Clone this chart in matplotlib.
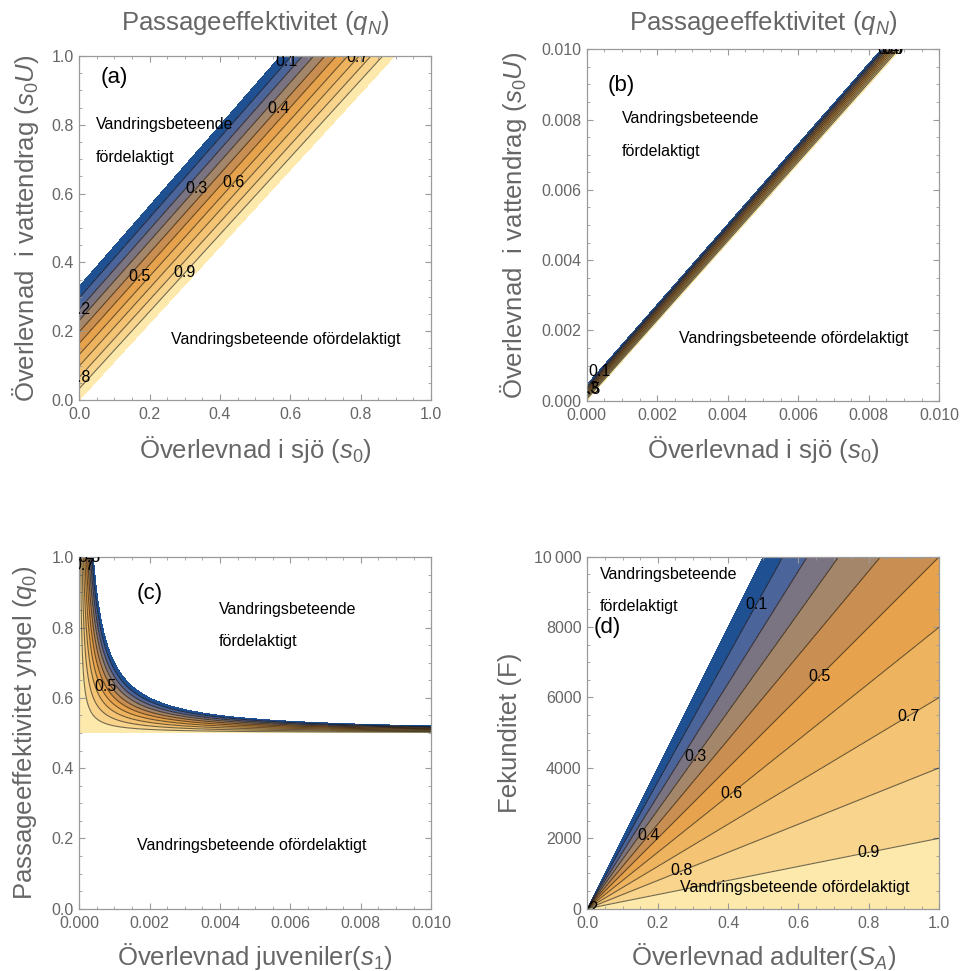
import numpy as np
import matplotlib
matplotlib.use("Agg")
import matplotlib.pyplot as plt
from matplotlib.ticker import MultipleLocator

plt.rcParams['font.family'] = ['Liberation Sans', 'DejaVu Sans']
plt.rcParams['mathtext.fontset'] = 'custom'
plt.rcParams['mathtext.rm'] = 'Liberation Sans'
plt.rcParams['mathtext.it'] = 'Liberation Sans:italic'

# passage efficiency contour levels and the colour of each band
levels = [0.1, 0.2, 0.3, 0.4, 0.5, 0.6, 0.7, 0.8, 0.9]
band_edges = [0.0] + levels + [1.0]
band_colors = ['#1f5192', '#4b6499', '#7a7382', '#a4876a', '#c98f52',
               '#e6a24c', '#eeb35f', '#f4c474', '#f8d48c', '#fde9ac']

# (a), (b): s0U where qN = 0 at s0 = 0, slope of the qN = 0 and qN = 1 lines
a_intercept, a_slope_top, a_slope_bottom = 0.33, 1.17, 1.115
b_intercept, b_slope_top, b_slope_bottom = 0.00045, 1.143, 1.124
# (c): q0 threshold and (q0 - threshold) * s1 at qN = 0
c_threshold, c_product = 0.5, 0.0002
# (d): F / SA at qN = 0
d_ratio = 20000

GRAY = '#666666'
FRAME = '#9a9a9a'


def band_field(x, y, intercept, top, bottom):
    return 1 - (y - bottom * x) / ((top - bottom) * x + intercept)


def style_axes(ax, xmaj, xmin, ymaj, ymin):
    for s in ax.spines.values():
        s.set_color(FRAME)
        s.set_linewidth(0.9)
    ax.xaxis.set_major_locator(MultipleLocator(xmaj))
    ax.xaxis.set_minor_locator(MultipleLocator(xmin))
    ax.yaxis.set_major_locator(MultipleLocator(ymaj))
    ax.yaxis.set_minor_locator(MultipleLocator(ymin))
    ax.tick_params(which='both', direction='in', top=True, right=True,
                   color=FRAME, labelcolor=GRAY, labelsize=11.5)
    ax.tick_params(which='major', length=4.5, width=0.8)
    ax.tick_params(which='minor', length=2.2, width=0.6)
    ax.tick_params(axis='x', pad=5)
    ax.tick_params(axis='y', pad=4)


def draw_bands(ax, X, Y, Z, label_pos, lw=0.8, alpha=0.55):
    ax.contourf(X, Y, Z, levels=band_edges, colors=band_colors)
    cs = ax.contour(X, Y, Z, levels=levels, colors='black', alpha=alpha,
                    linewidths=lw)
    # put each level's label on the closest point of its line, kept level
    for lev, pos in label_pos:
        i = int(np.argmin(np.abs(np.asarray(cs.levels) - lev)))
        segs = [s for s in cs.allsegs[i] if len(s)]
        pts = np.vstack(segs)
        disp = ax.transData.transform(pts)
        target = ax.transData.transform(pos)
        k = int(np.argmin(np.hypot(*(disp - target).T)))
        ax.text(pts[k, 0], pts[k, 1], f'{cs.levels[i]:.1f}', fontsize=11.5,
                ha='center', va='center', clip_on=True, zorder=5)


def labels(ax, title, xlabel, ylabel, xoff, yoff, toff=None):
    kw = dict(transform=ax.transAxes, ha='center', va='center',
              color=GRAY, fontsize=18.5)
    ax.text(0.5, xoff, xlabel, **kw)
    ax.text(yoff, 0.5, ylabel, rotation=90, **kw)
    if title:
        ax.text(0.5, toff, title, **kw)


def notes(ax, upper, lower, tag, tag_xy, ann=11.5):
    (x1, y1), (x2, y2), (x3, y3) = upper[0], upper[1], lower
    ax.text(x1, y1, 'Vandringsbeteende', fontsize=ann, va='center')
    ax.text(x2, y2, 'fördelaktigt', fontsize=ann, va='center')
    ax.text(x3, y3, 'Vandringsbeteende ofördelaktigt', fontsize=ann,
            va='center')
    ax.text(tag_xy[0], tag_xy[1], tag, fontsize=16, va='center')


fig = plt.figure(figsize=(9.62, 9.71), dpi=100)
ax_a = fig.add_axes([0.0824, 0.5881, 0.3656, 0.3543])
ax_b = fig.add_axes([0.6099, 0.5873, 0.3665, 0.3619])
ax_c = fig.add_axes([0.0824, 0.0642, 0.3659, 0.3619])
ax_d = fig.add_axes([0.6105, 0.0642, 0.3659, 0.3625])

title = 'Passageeffektivitet ($q_N$)'
s0_label = 'Överlevnad i sjö ($s_0$)'
s0u_label = 'Överlevnad  i vattendrag ($s_0U$)'

# (a)
x = np.linspace(0, 1, 700)
X, Y = np.meshgrid(x, x)
Za = band_field(X, Y, a_intercept, a_slope_top, a_slope_bottom)
ax_a.set_xlim(0, 1)
ax_a.set_ylim(0, 1)
draw_bands(ax_a, X, Y, Za,
           [(0.1, (0.59, 0.985)), (0.2, (0.0, 0.257)), (0.3, (0.34, 0.61)),
            (0.4, (0.575, 0.84)), (0.5, (0.17, 0.36)), (0.6, (0.45, 0.62)),
            (0.7, (0.80, 0.985)), (0.8, (0.0, 0.065)), (0.9, (0.30, 0.37))])
style_axes(ax_a, 0.2, 0.05, 0.2, 0.05)
labels(ax_a, title, s0_label, s0u_label, -0.145, -0.153, 1.096)
notes(ax_a, [(0.048, 0.80), (0.048, 0.706)], (0.26, 0.177), '(a)',
      (0.06, 0.936))

# (b): the band is narrow here, so its lines crowd together
x = np.linspace(0, 0.01, 1600)
X, Y = np.meshgrid(x, x)
Zb = band_field(X, Y, b_intercept, b_slope_top, b_slope_bottom)
ax_b.set_xlim(0, 0.01)
ax_b.set_ylim(0, 0.01)
draw_bands(ax_b, X, Y, Zb,
           [(0.1, (0.0003, 0.0009)), (0.3, (0.0001, 0.0003)),
            (0.5, (0.0002, 0.0002)), (0.4, (0.0087, 0.0100)),
            (0.6, (0.0088, 0.0100)), (0.7, (0.0089, 0.0100))],
           lw=0.8, alpha=0.6)
style_axes(ax_b, 0.002, 0.0005, 0.002, 0.0005)
ax_b.xaxis.set_major_formatter(lambda v, p: f'{v:.3f}')
ax_b.yaxis.set_major_formatter(lambda v, p: f'{v:.3f}')
labels(ax_b, title, s0_label, s0u_label, -0.140, -0.209, 1.075)
notes(ax_b, [(0.00099, 0.00802), (0.00099, 0.00709)], (0.00263, 0.00178),
      '(b)', (0.0006, 0.00896))

# (c)
s1 = np.linspace(0, 0.01, 2000)
q0 = np.linspace(0, 1, 900)
X, Y = np.meshgrid(s1, q0)
Zc = 1 - (Y - c_threshold) * X / c_product
ax_c.set_xlim(0, 0.01)
ax_c.set_ylim(0, 1)
draw_bands(ax_c, X, Y, Zc,
           [(0.5, (0.00076, 0.632)), (0.7, (0.00010, 0.978)),
            (0.3, (0.00035, 1.0))])
style_axes(ax_c, 0.002, 0.0005, 0.2, 0.05)
ax_c.xaxis.set_major_formatter(lambda v, p: f'{v:.3f}')
ax_c.yaxis.set_major_formatter(lambda v, p: f'{v:.1f}')
labels(ax_c, None, 'Överlevnad juveniler($s_1$)',
       'Passageeffektivitet yngel ($q_0$)', -0.137, -0.154)
notes(ax_c, [(0.00397, 0.85), (0.00397, 0.76)], (0.00163, 0.181), '(c)',
      (0.00164, 0.898))

# (d)
sa = np.linspace(1e-6, 1, 800)
f = np.linspace(0, 10000, 800)
X, Y = np.meshgrid(sa, f)
Zd = 1 - Y / (d_ratio * X)
ax_d.set_xlim(0, 1)
ax_d.set_ylim(0, 10000)
draw_bands(ax_d, X, Y, Zd,
           [(0.1, (0.48, 8650)), (0.2, (0.0, 0.0)), (0.3, (0.31, 4300)),
            (0.4, (0.17, 2100)), (0.5, (0.66, 6600)), (0.6, (0.41, 3300)),
            (0.7, (0.91, 5500)), (0.8, (0.27, 1050)), (0.9, (0.80, 1600))])
style_axes(ax_d, 0.2, 0.05, 2000, 500)
ax_d.xaxis.set_major_formatter(lambda v, p: f'{v:.1f}')
ax_d.yaxis.set_major_formatter(
    lambda v, p: '10\u2009000' if v >= 10000 else f'{v:.0f}')
labels(ax_d, None, 'Överlevnad adulter($S_A$)', 'Fekunditet (F)',
       -0.137, -0.22)
notes(ax_d, [(0.036, 9500), (0.036, 8580)], (0.263, 590), '(d)',
      (0.019, 7975))

fig.savefig('out.png', dpi=100)
